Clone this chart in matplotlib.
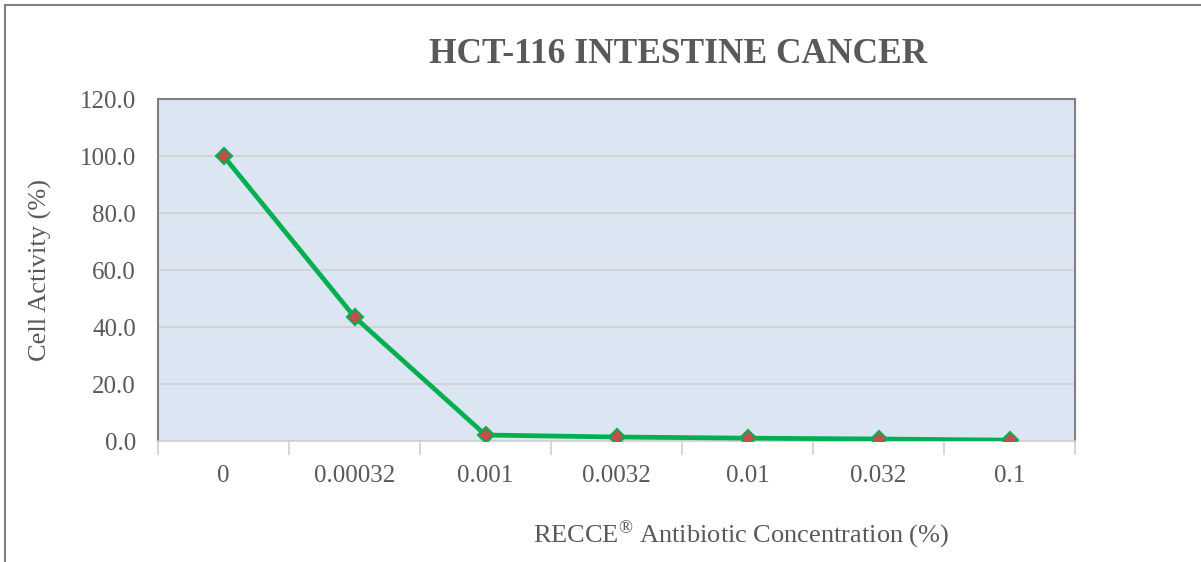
import matplotlib.pyplot as plt
from matplotlib.lines import Line2D

# data
concentrations = ['0', '0.00032', '0.001', '0.0032', '0.01', '0.032', '0.1']
cell_activity = [100.0, 43.5, 2.1, 1.4, 1.0, 0.7, 0.3]
y_ticks = [0, 20, 40, 60, 80, 100, 120]

plt.rcParams['font.family'] = ['Liberation Serif', 'DejaVu Serif']
plt.rcParams['mathtext.fontset'] = 'custom'
plt.rcParams['mathtext.rm'] = 'Liberation Serif'
plt.rcParams['mathtext.it'] = 'Liberation Serif'
txt = '#595959'

fig = plt.figure(figsize=(12.01, 5.62), dpi=100)
ax = fig.add_axes([0.1316, 0.2153, 0.7635, 0.6085])
ax.set_facecolor('#DCE6F2')

x = list(range(len(concentrations)))
ax.plot(x, cell_activity, color='#00B050', lw=3.4, marker='D', ms=8,
        mfc='#C0504D', mec='#00B050', mew=1.5, zorder=3)

ax.set_xlim(-0.5, len(concentrations) - 0.5)
ax.set_ylim(0, 120)
ax.set_yticks(y_ticks)
ax.set_yticklabels(['%.1f' % v for v in y_ticks])
ax.grid(axis='y', color='#D0D0D0', lw=1.2)
ax.set_axisbelow(True)

ax.set_xticks(x)
ax.set_xticklabels(concentrations)
ax.set_xticks([i - 0.5 for i in range(len(concentrations) + 1)], minor=True)
ax.tick_params(axis='x', which='major', length=0, pad=17, labelsize=18, labelcolor=txt)
ax.tick_params(axis='x', which='minor', length=10, color='#D0D0D0', width=1.2)
ax.tick_params(axis='y', length=0, pad=16, labelsize=18, labelcolor=txt)

for s in ['left', 'top', 'right']:
    ax.spines[s].set_color('#808080')
    ax.spines[s].set_linewidth(1.5)
ax.spines['bottom'].set_color('#D0D0D0')
ax.spines['bottom'].set_linewidth(1.2)

fig.text(0.5645, 0.903, 'HCT-116 INTESTINE CANCER', ha='center', va='center',
         fontsize=25.5, fontweight='bold', color=txt)
fig.text(0.617, 0.047, r'RECCE$^{\mathrm{®}}$ Antibiotic Concentration (%)', ha='center',
         va='center', fontsize=19, color=txt)
fig.text(0.034, 0.52, 'Cell Activity (%)', ha='center', va='center',
         rotation=90, fontsize=19, color=txt)

# outer chart frame
fig.add_artist(Line2D([0.0042, 0.0042], [0, 0.991], color='#808080', lw=1.5))
fig.add_artist(Line2D([0.0042, 1], [0.991, 0.991], color='#808080', lw=1.5))

fig.savefig('out.png', dpi=100)
